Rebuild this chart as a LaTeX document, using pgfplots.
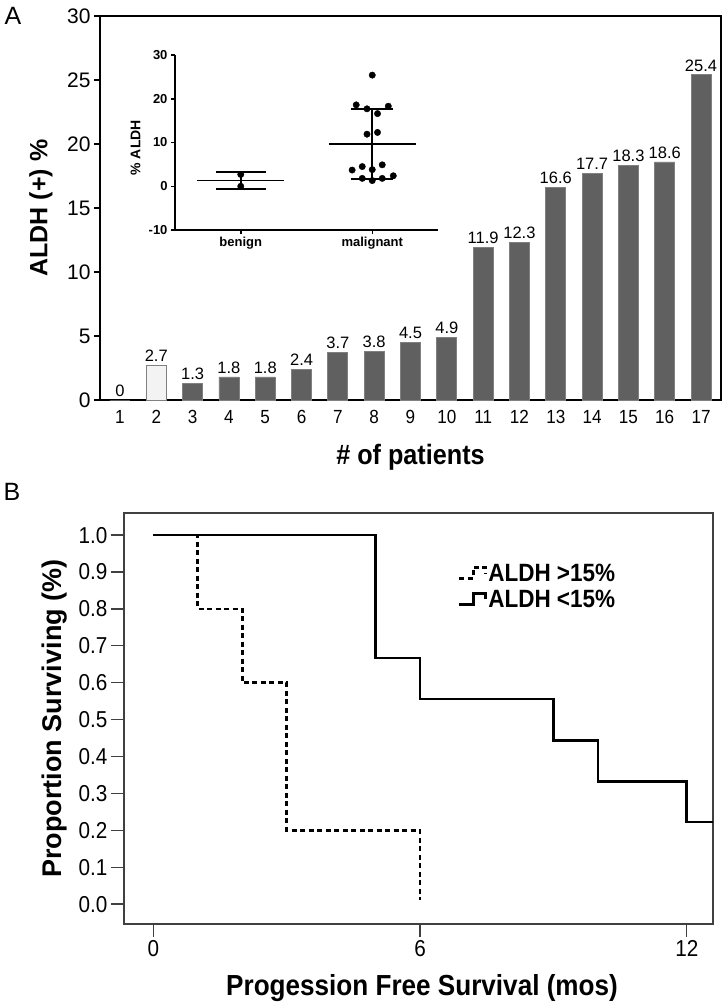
\documentclass[border=0pt]{standalone}
\usepackage{fontspec}
\setmainfont{Liberation Sans}
\newfontfamily\narrowfont[FakeStretch=0.9]{Liberation Sans}
\usepackage{pgfplots}
\pgfplotsset{compat=1.18}
\newcommand{\fs}[1]{\fontsize{#1bp}{#1bp}\selectfont}
\pgfplotsset{/pgf/number format/assume math mode=true}
\definecolor{bardark}{HTML}{606060}
\definecolor{baredge}{HTML}{808080}
\definecolor{barlight}{HTML}{F3F3F3}
\definecolor{axgray}{HTML}{404040}

\pgfplotstableread{
x y
1 0
3 1.3
4 1.8
5 1.8
6 2.4
7 3.7
8 3.8
9 4.5
10 4.9
11 11.9
12 12.3
13 16.6
14 17.7
15 18.3
16 18.6
17 25.4
}\bardata

\pgfplotstableread{
x y
2 2.7
}\barlight

\pgfplotstableread{
x y
1 2.7
1 0
}\benign

\pgfplotstableread{
x y
2.000 25.4
1.878 18.6
1.960 17.7
2.122 18.3
2.040 16.6
1.960 11.9
2.040 12.3
1.847 3.7
1.924 4.5
2.000 3.8
2.076 4.9
1.924 1.8
2.000 1.3
2.076 1.8
2.160 2.4
}\malignant

\begin{document}
\begin{tikzpicture}
\path[use as bounding box] (0bp,0bp) rectangle (727bp,-1007bp);

\node[font=\fs{25}] at (13bp,-16bp) {A};
\node[font=\fs{25}] at (12bp,-492bp) {B};

% ---------------- Panel A main bar chart
\begin{axis}[
  at={(100bp,-400bp)}, anchor=south west,
  scale only axis, width=621bp, height=384bp,
  xmin=0.45, xmax=17.55, ymin=0, ymax=30,
  enlargelimits=false,
  axis line style={line width=2bp, black},
  ytick={0,5,10,15,20,25,30}, xtick={1,...,17},
  ytick pos=left, tick align=outside, major tick length=6bp,
  tick style={line width=1.2bp, black},
  xtick style={draw=none},
  yticklabel style={font=\fs{21}},
  xticklabel style={font=\narrowfont\fs{19}, yshift=-1bp},
  ylabel={ALDH (+) \%},
  ylabel style={font=\bfseries\fs{25}, at={(axis description cs:-0.095,0.5)}, anchor=center},
  xlabel={\# of patients},
  xlabel style={font=\narrowfont\bfseries\fs{28}, at={(axis description cs:0.5,-0.148)}, anchor=center},
  nodes near coords,
  nodes near coords style={font=\fs{16.5}, text=black},
]
\addplot[ybar, bar width=20bp, bar shift=0pt, fill=bardark, draw=baredge, line width=0.8bp] table[x=x,y=y] {\bardata};
\addplot[ybar, bar width=20bp, bar shift=0pt, fill=barlight, draw=baredge, line width=0.8bp] table[x=x,y=y] {\barlight};
\end{axis}

% ---------------- Inset scatter
\begin{axis}[
  at={(175bp,-230bp)}, anchor=south west,
  scale only axis, width=263bp, height=175bp,
  xmin=0.5, xmax=2.5, ymin=-10, ymax=30,
  enlargelimits=false, clip=false,
  axis lines*=left,
  axis line style={line width=1.5bp, black},
  xtick={1,2}, xticklabels={benign,malignant},
  ytick={-10,0,10,20,30},
  tick align=outside, major tick length=4bp,
  tick style={line width=1.5bp, black},
  ticklabel style={font=\bfseries\fs{13}},
  ylabel={\% ALDH},
  ylabel style={font=\bfseries\fs{14}, at={(axis description cs:-0.15,0.47)}, anchor=center},
]
\addplot[only marks, mark=*, mark size=3.2bp, black] table[x=x,y=y] {\benign};
\addplot[only marks, mark=*, mark size=3.2bp, black] table[x=x,y=y] {\malignant};
% benign mean and SD
\addplot[black, line width=1.5bp] coordinates {(0.67,1.35) (1.33,1.35)};
\addplot[black, line width=2bp] coordinates {(1,-0.56) (1,3.26)};
\addplot[black, line width=2bp] coordinates {(0.81,-0.56) (1.19,-0.56)};
\addplot[black, line width=2bp] coordinates {(0.81,3.26) (1.19,3.26)};
% malignant mean and SD
\addplot[black, line width=1.5bp] coordinates {(1.67,9.67) (2.33,9.67)};
\addplot[black, line width=2bp] coordinates {(2,1.69) (2,17.65)};
\addplot[black, line width=2bp] coordinates {(1.84,1.69) (2.16,1.69)};
\addplot[black, line width=2bp] coordinates {(1.84,17.65) (2.16,17.65)};
\end{axis}

% ---------------- Panel B Kaplan-Meier
\begin{axis}[
  at={(124bp,-924bp)}, anchor=south west,
  scale only axis, width=589bp, height=411bp,
  xmin=-0.66, xmax=12.59, ymin=-0.054, ymax=1.06,
  enlargelimits=false,
  axis line style={line width=1.3bp, axgray},
  xtick={0,6,12},
  ytick={0,0.1,0.2,0.3,0.4,0.5,0.6,0.7,0.8,0.9,1.0},
  xtick pos=bottom, ytick pos=left,
  tick align=outside, major tick length=13bp,
  tick style={line width=1.3bp, axgray},
  yticklabel style={/pgf/number format/.cd, fixed, fixed zerofill, precision=1},
  ticklabel style={font=\narrowfont\fs{23}},
  ylabel={Proportion Surviving (\%)},
  ylabel style={font=\bfseries\fs{27}, at={(axis description cs:-0.118,0.5)}, anchor=center},
  xlabel={Progession Free Survival (mos)},
  xlabel style={font=\narrowfont\bfseries\fs{29}, at={(axis description cs:0.506,-0.156)}, anchor=center},
  legend style={draw=none, fill=none, at={(axis description cs:0.567,0.88)}, anchor=north west,
    font=\narrowfont\bfseries\fs{25}, row sep=4bp, inner sep=0bp,
    nodes={inner sep=1.5bp}},
  legend cell align=left,
  legend image code/.code={\draw[#1] (0bp,-5bp) -- (14bp,-5bp) -- (14bp,6bp) -- (26bp,6bp) -- (26bp,0bp);},
]
\addplot[black, line width=2.6bp, dash pattern=on 5bp off 3.5bp, const plot] coordinates {(0,1) (1,0.8) (2,0.6) (3,0.2) (6,0.01)};
\addlegendentry{ALDH >15\%}
\addplot[black, line width=2.6bp, const plot] coordinates {(0,1) (5,0.667) (6,0.556) (9,0.444) (10,0.333) (12,0.222) (12.59,0.222)};
\addlegendentry{ALDH <15\%}
\end{axis}
\end{tikzpicture}
\end{document}
